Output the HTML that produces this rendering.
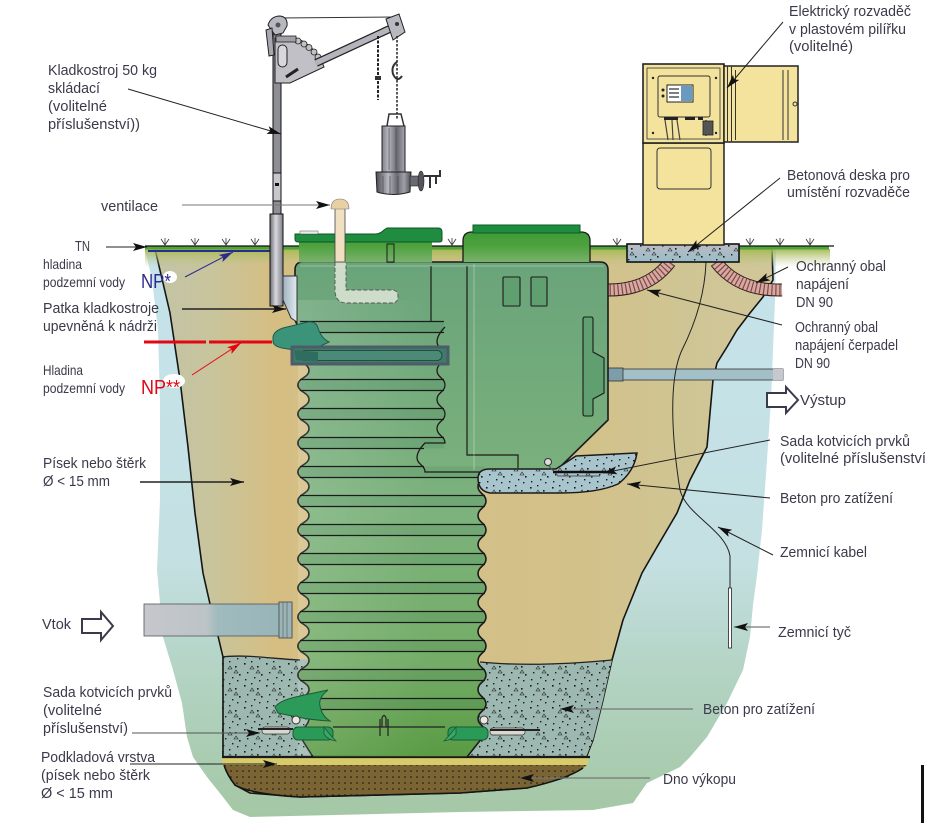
<!DOCTYPE html>
<html><head><meta charset="utf-8"><style>
html,body{margin:0;padding:0;background:#fff;}
svg{display:block;}
text{font-family:"Liberation Sans","DejaVu Sans",sans-serif;font-size:15px;fill:#3a3a4a;}
</style></head><body>
<svg width="925" height="823" viewBox="0 0 925 823" xmlns="http://www.w3.org/2000/svg">
<defs>
<linearGradient id="gw" x1="0" y1="249" x2="0" y2="818" gradientUnits="userSpaceOnUse">
<stop offset="0" stop-color="#c6e3eb"/><stop offset="0.55" stop-color="#c4e0e2"/><stop offset="0.75" stop-color="#b3d3c3"/><stop offset="1" stop-color="#a4c7a4"/></linearGradient>
<linearGradient id="tan" x1="150" y1="0" x2="780" y2="0" gradientUnits="userSpaceOnUse">
<stop offset="0" stop-color="#c2c5a8"/><stop offset="0.1" stop-color="#c8c49c"/><stop offset="0.2" stop-color="#d6be82"/><stop offset="0.24" stop-color="#d4bf86"/><stop offset="0.7" stop-color="#d3c18a"/><stop offset="0.85" stop-color="#cfc594"/><stop offset="1" stop-color="#d0c69a"/></linearGradient>
<linearGradient id="gband" x1="0" y1="249" x2="0" y2="267" gradientUnits="userSpaceOnUse">
<stop offset="0" stop-color="#a3ba4e" stop-opacity="0.95"/><stop offset="1" stop-color="#c0c48a" stop-opacity="0"/></linearGradient>
<linearGradient id="tank" x1="0" y1="262" x2="0" y2="757" gradientUnits="userSpaceOnUse">
<stop offset="0" stop-color="#6aa47a"/><stop offset="0.5" stop-color="#7cb27c"/><stop offset="0.8" stop-color="#74ad68"/><stop offset="1" stop-color="#5a9b44"/></linearGradient>
<linearGradient id="tankh" x1="298" y1="0" x2="430" y2="0" gradientUnits="userSpaceOnUse">
<stop offset="0" stop-color="#fff" stop-opacity="0.14"/><stop offset="1" stop-color="#fff" stop-opacity="0"/></linearGradient>
<linearGradient id="neck" x1="0" y1="232" x2="0" y2="263" gradientUnits="userSpaceOnUse">
<stop offset="0" stop-color="#3f9a36"/><stop offset="0.45" stop-color="#4ea23e"/><stop offset="1" stop-color="#7db270"/></linearGradient>
<linearGradient id="inpipe" x1="144" y1="0" x2="292" y2="0" gradientUnits="userSpaceOnUse">
<stop offset="0" stop-color="#c6c7cc"/><stop offset="0.42" stop-color="#bcc4c8"/><stop offset="0.5" stop-color="#a0bbbe"/><stop offset="1" stop-color="#96b3b7"/></linearGradient>
<linearGradient id="slab" x1="0" y1="244" x2="0" y2="262" gradientUnits="userSpaceOnUse">
<stop offset="0" stop-color="#bcbcc4"/><stop offset="1" stop-color="#98bcc8"/></linearGradient>
<linearGradient id="mastg" x1="270" y1="0" x2="283" y2="0" gradientUnits="userSpaceOnUse">
<stop offset="0" stop-color="#6e6e76"/><stop offset="0.45" stop-color="#d8d8de"/><stop offset="1" stop-color="#7e7e86"/></linearGradient>
<linearGradient id="pumpg" x1="376" y1="0" x2="411" y2="0" gradientUnits="userSpaceOnUse">
<stop offset="0" stop-color="#4a4a52"/><stop offset="0.35" stop-color="#b8b8c0"/><stop offset="0.6" stop-color="#6a6a72"/><stop offset="0.8" stop-color="#a0a0a8"/><stop offset="1" stop-color="#505058"/></linearGradient>
<linearGradient id="brk" x1="283" y1="0" x2="297" y2="0" gradientUnits="userSpaceOnUse">
<stop offset="0" stop-color="#9fb2c2"/><stop offset="1" stop-color="#e2eaf0"/></linearGradient>
<pattern id="dots" width="22" height="22" patternUnits="userSpaceOnUse">
<g fill="#1a1a1a"><rect x="2" y="3" width="1.6" height="1.6"/><rect x="9" y="1" width="1.4" height="1.4"/><rect x="15" y="6" width="1.6" height="1.6"/><rect x="5" y="12" width="1.4" height="1.4"/><rect x="19" y="14" width="1.6" height="1.6"/><rect x="12" y="17" width="1.4" height="1.4"/><rect x="3" y="19" width="1.4" height="1.4"/><rect x="17" y="20" width="1.4" height="1.4"/></g>
<path d="M8,9 l2,-3 l2,3z M14,13 l2,-3 l2,3z" fill="none" stroke="#222" stroke-width="0.6"/>
</pattern>
<pattern id="bdots" width="6" height="6" patternUnits="userSpaceOnUse"><circle cx="3" cy="3" r="0.8" fill="#111"/></pattern>
<marker id="ah" viewBox="0 0 14 8" refX="14" refY="4" markerWidth="14" markerHeight="8" markerUnits="userSpaceOnUse" orient="auto"><path d="M0,0 L14,4 L0,8 L3,4 Z" fill="#111"/></marker>
<marker id="ahb" viewBox="0 0 14 8" refX="14" refY="4" markerWidth="14" markerHeight="8" markerUnits="userSpaceOnUse" orient="auto"><path d="M0,0 L14,4 L0,8 L3,4 Z" fill="#2b2b90"/></marker>
<marker id="ahr" viewBox="0 0 14 8" refX="14" refY="4" markerWidth="14" markerHeight="8" markerUnits="userSpaceOnUse" orient="auto"><path d="M0,0 L14,4 L0,8 L3,4 Z" fill="#e30613"/></marker>
</defs>

<rect width="925" height="823" fill="#fff"/>

<!-- groundwater blob -->
<path d="M145,249 L776,249 L775,300 L771,400 L767,460 L762,530 L757,575 L753,605 L750,637 L743,670 L727,703 L707,737 L690,757 L680,767 L647,783 L633,803 L593,810 L460,812 L250,817 L233,810 L223,797 L207,777 L193,757 L187,737 L182,703 L173,670 L163,637 L160,603 L157,570 L160,500 L160,400 L158,330 L152,280 Z" fill="url(#gw)"/>

<!-- excavation -->
<path d="M155,249 L772,249 L773,280 L763,297 L750,313 L737,330 L727,347 L717,363 L713,380 L710,413 L707,447 L690,480 L677,513 L657,547 L642,573 L623,620 L612,660 L603,700 L593,740 L584,763 L567,777 L527,788 L460,793 L300,797 L250,793 L235,785 L227,767 L223,757 L223,657 L218,636 L210,604 L203,573 L195,513 L188,447 L180,380 L170,313 L163,283 Z" fill="url(#tan)" stroke="#151515" stroke-width="1.6" stroke-linejoin="round"/>

<!-- ground band -->
<rect x="145" y="249" width="685" height="18" fill="url(#gband)"/>
<rect x="145" y="246.5" width="684" height="3" fill="#4ea33a"/>
<line x1="145" y1="246" x2="834" y2="246" stroke="#111" stroke-width="1.2"/>
<line x1="148" y1="251" x2="272" y2="251" stroke="#2b2b90" stroke-width="2"/>

<!-- lower concrete -->
<path d="M222,657 C245,654 275,659 320,660 L320,757 L227,757 Q222,757 222,750 Z" fill="#9db8b0"/>
<path d="M222,657 C245,654 275,659 320,660 L320,757 L227,757 Q222,757 222,750 Z" fill="url(#dots)"/>
<path d="M222,657 C245,654 275,659 300,660" fill="none" stroke="#222" stroke-width="1.3"/>
<path d="M466,662 C520,666 570,664 612,660 L603,700 L593,740 L586,757 L460,757 Z" fill="#9db8b0"/>
<path d="M466,662 C520,666 570,664 612,660 L603,700 L593,740 L586,757 L460,757 Z" fill="url(#dots)"/>
<path d="M480,662 C520,666 570,664 612,660" fill="none" stroke="#222" stroke-width="1.3"/>
<path d="M223,657 V757" stroke="#151515" stroke-width="1.6"/>

<!-- sand & bottom -->
<rect x="222" y="757.5" width="366" height="7.5" fill="#d8cb6c"/>
<path d="M224,765 H587 L583,768 Q567,779 527,788 L460,793 L300,797 Q250,794 235,785 Q227,775 224,765 Z" fill="#7a6433"/>
<path d="M224,765 H587 L583,768 Q567,779 527,788 L460,793 L300,797 Q250,794 235,785 Q227,775 224,765 Z" fill="url(#bdots)"/>
<path d="M583,768 Q567,779 527,788 L460,793 L300,797 Q250,794 235,785 Q227,775 224,765" fill="none" stroke="#151515" stroke-width="1.6"/>
<line x1="222" y1="757" x2="590" y2="757" stroke="#1a1a1a" stroke-width="2.2"/>

<!-- inlet pipe -->
<rect x="144" y="604" width="148" height="32" fill="url(#inpipe)" stroke="#555" stroke-width="0.8"/>
<rect x="279" y="602" width="13" height="36" fill="#9ab4b8" stroke="#444" stroke-width="0.8"/>
<line x1="283" y1="602" x2="283" y2="638" stroke="#555" stroke-width="0.6"/>
<line x1="287" y1="602" x2="287" y2="638" stroke="#555" stroke-width="0.6"/>

<!-- outlet pipe -->
<rect x="608" y="369" width="175" height="11" fill="#a3c0c8" stroke="#333" stroke-width="0.8"/>
<rect x="773" y="369" width="10" height="11" fill="#c6c8ce"/>
<rect x="608" y="368" width="15" height="13" fill="#7d9ea8" stroke="#333" stroke-width="0.8"/>

<!-- conduits -->
<path d="M670,262 Q648,291 606,290" fill="none" stroke="#2a1a1a" stroke-width="13"/>
<path d="M670,262 Q648,291 606,290" fill="none" stroke="#d9a8a0" stroke-width="11"/>
<path d="M670,262 Q648,291 606,290" fill="none" stroke="#7a4a48" stroke-width="11" stroke-dasharray="1.2 2.8"/>
<path d="M716,262 Q738,291 782,290" fill="none" stroke="#2a1a1a" stroke-width="13"/>
<path d="M716,262 Q738,291 782,290" fill="none" stroke="#d9a8a0" stroke-width="11"/>
<path d="M716,262 Q738,291 782,290" fill="none" stroke="#7a4a48" stroke-width="11" stroke-dasharray="1.2 2.8"/>

<!-- earthing cable -->
<path d="M706,262 C705,292 696,322 682,350 C668,380 672,440 680,490 C686,515 726,530 730,556 L730,588" fill="none" stroke="#222" stroke-width="1"/>
<rect x="728.5" y="588" width="3" height="60" fill="#fff" stroke="#222" stroke-width="0.8"/>

<!-- slab -->
<rect x="627" y="244" width="112" height="18" fill="url(#slab)" stroke="#111" stroke-width="1.6"/>
<rect x="628" y="245" width="110" height="16" fill="url(#dots)"/>

<!-- tank body -->
<path d="M303,262 H600 Q608,262 608,270 V420 L555,472 H486 s-8,7.5 -8,14.5 s8,7.5 8,14.5 s-8,7.5 -8,14.5 s8,7.5 8,14.5 s-8,7.5 -8,14.5 s8,7.5 8,14.5 s-8,7.5 -8,14.5 s8,7.5 8,14.5 s-8,7.5 -8,14.5 s8,7.5 8,14.5 s-8,7.5 -8,14.5 s8,7.5 8,14.5 s-8,7.5 -8,14.5 s8,7.5 8,14.5 s-8,7.5 -8,14.5 s8,7.5 8,14.5 s-8,7.5 -8,14.5 s8,7.5 8,14.5 L467,757 H313 L298,733 s11,-7.5 11,-14.5 s-11,-7.5 -11,-14.5 s11,-7.5 11,-14.5 s-11,-7.5 -11,-14.5 s11,-7.5 11,-14.5 s-11,-7.5 -11,-14.5 s11,-7.5 11,-14.5 s-11,-7.5 -11,-14.5 s11,-7.5 11,-14.5 s-11,-7.5 -11,-14.5 s11,-7.5 11,-14.5 s-11,-7.5 -11,-14.5 s11,-7.5 11,-14.5 s-11,-7.5 -11,-14.5 s11,-7.5 11,-14.5 s-11,-7.5 -11,-14.5 s11,-7.5 11,-14.5 s-11,-7.5 -11,-14.5 s11,-7.5 11,-14.5 s-11,-7.5 -11,-14.5 s11,-7.5 11,-14.5 s-11,-7.5 -11,-14.5 s11,-7.5 11,-14.5 s-11,-7.5 -11,-14.5 s11,-7.5 11,-14.5 s-11,-7.5 -11,-14.5 s11,-7.5 11,-14.5 s-11,-7.5 -11,-14.5 L295,320 V270 Q295,262 303,262 Z" fill="url(#tank)" stroke="#1a1a1a" stroke-width="1.6"/>
<rect x="298" y="300" width="140" height="455" fill="url(#tankh)"/>

<!-- band fills -->
<g fill="#14503a" fill-opacity="0.1">
<rect x="300" y="321.5" width="144" height="11"/><rect x="300" y="350.5" width="144" height="11"/><rect x="300" y="379.5" width="144" height="11"/><rect x="300" y="408.5" width="144" height="11"/><rect x="300" y="437.5" width="144" height="11"/><rect x="300" y="466.5" width="185" height="11"/><rect x="300" y="495.5" width="185" height="11"/><rect x="300" y="524.5" width="185" height="11"/><rect x="300" y="553.5" width="185" height="11"/><rect x="300" y="582.5" width="185" height="11"/><rect x="300" y="611.5" width="185" height="11"/><rect x="300" y="640.5" width="185" height="11"/><rect x="300" y="669.5" width="185" height="11"/><rect x="300" y="698.5" width="185" height="11"/>
</g>
<path d="M300,321.5H444M300,332.5H444M300,350.5H444M300,361.5H444M300,379.5H444M300,390.5H444M300,408.5H444M300,419.5H444M300,437.5H444M300,448.5H424M300,466.5H424M300,477.5H485M300,495.5H485M300,506.5H485M300,524.5H485M300,535.5H485M300,553.5H485M300,564.5H485M300,582.5H485M300,593.5H485M300,611.5H485M300,622.5H485M300,640.5H485M300,651.5H485M300,669.5H485M300,680.5H485M300,698.5H485M300,709.5H485" stroke="#1c1c1c" stroke-width="1.2" fill="none"/>
<!-- upper column right edge -->
<path d="M445,327 s-8,7.5 -8,14.5 s8,7.5 8,14.5 s-8,7.5 -8,14.5 s8,7.5 8,14.5 s-8,7.5 -8,14.5 s8,7.5 8,14.5 s-8,7.5 -8,14.5 s8,7.5 8,14.5 L425,443 s-8,7.5 -8,14.5 s8,7.5 8,14.5 L486,472" fill="none" stroke="#1c1c1c" stroke-width="1.3"/>
<!-- upper body inner lines -->
<path d="M431,266V321M467,266V455H518V468" fill="none" stroke="#1c1c1c" stroke-width="1.2"/>
<line x1="474" y1="264" x2="474" y2="470" stroke="#fff" stroke-opacity="0.35" stroke-width="1"/>
<line x1="300" y1="266" x2="604" y2="266" stroke="#fff" stroke-opacity="0.3" stroke-width="1"/>
<rect x="503" y="277" width="17" height="29" rx="1" fill="#5f9f70" stroke="#1c1c1c" stroke-width="1.1"/>
<rect x="531" y="277" width="16" height="29" rx="1" fill="#5f9f70" stroke="#1c1c1c" stroke-width="1.1"/>
<path d="M583,319 Q583,317 585,317 H591 Q593,317 593,319 V352 L604,358 V393 L593,399 V414 Q593,416 591,416 H585 Q583,416 583,414 Z" fill="#5f9f70" stroke="#1c1c1c" stroke-width="1.1"/>

<!-- vent pipe inside -->
<path d="M335,262 V290 Q335,303 347,303 H392 Q398,303 398,296.5 Q398,290 392,290 H346 V262 Z" fill="#dfe6d8" fill-opacity="0.85" stroke="#555" stroke-width="0.9" stroke-dasharray="4 2"/>

<!-- necks and lids -->
<rect x="299" y="242" width="133" height="20.5" fill="url(#neck)"/>
<rect x="387" y="244" width="7" height="18" fill="none" stroke="#1c1c1c" stroke-width="1"/>
<path d="M463,262 V241 Q463,232 472,232 H581 Q590,232 590,241 V262" fill="url(#neck)" stroke="#1a1a1a" stroke-width="1.3"/>
<rect x="473" y="225" width="107" height="8" fill="#1e8c3f" stroke="#0f5a28" stroke-width="1"/>
<path d="M295,234 H375 Q380,234 384,230 L387,228 H438 Q442,228 442,232 V240 Q442,242 439,242 H298 Q295,242 295,239 Z" fill="#1f8c40" stroke="#0e5526" stroke-width="1"/>
<rect x="300" y="231" width="18" height="3" fill="#e8eee8" stroke="#555" stroke-width="0.5"/>
<rect x="335" y="208" width="10" height="54" fill="#f0dfc0" stroke="#444" stroke-width="0.8"/>
<path d="M331,209 Q331,199 340,199 Q349,199 349,209 Z" fill="#e9d0a4" stroke="#777" stroke-width="0.6"/>

<!-- anchor foot top / guide -->
<path d="M273,337 Q274,331 283,328 L308,322 Q316,321 318,328 Q321,338 329,342 Q318,347 314,350 L300,351 L282,348 Q273,346 273,341 Z" fill="#3b9479" stroke="#1e5a4a" stroke-width="1"/>
<rect x="292" y="347" width="156" height="17" fill="#3e7b6a" stroke="#4d5c68" stroke-width="3"/>
<rect x="300" y="350.5" width="142" height="10" rx="5" fill="#4a8a76" stroke="#1d3d34" stroke-width="0.8"/>
<path d="M294,350 L318,352 L318,362 L296,360 Z" fill="#2f6e5e"/>

<!-- lower anchors -->
<path d="M275,707 Q280,700 300,696 L328,690 Q318,698 320,706 Q322,716 330,721 Q310,720 292,716 L278,713 Z" fill="#2c9b5a" stroke="#1b5a35" stroke-width="1"/>
<rect x="293" y="727" width="40" height="13" rx="5" fill="#2a9a58" stroke="#1b5a35" stroke-width="1"/>
<rect x="448" y="727" width="40" height="13" rx="5" fill="#2a9a58" stroke="#1b5a35" stroke-width="1"/>
<path d="M324,727 Q330,735 336,741 Q328,740 324,734 Z M456,727 Q450,735 444,741 Q452,740 456,734 Z" fill="#3aa868" stroke="#1b5a35" stroke-width="0.8"/>
<path d="M333,727 H445 M380,719 V736 M388,719 V736 M382,727 V718 Q384,713 386,718 V727" fill="none" stroke="#222" stroke-width="1.2"/>
<rect x="262" y="727" width="28" height="7" rx="3" fill="#d8d8d0" stroke="#333" stroke-width="0.7"/>
<rect x="490" y="728" width="35" height="7" rx="3" fill="#d8d8d0" stroke="#333" stroke-width="0.7"/>
<line x1="258" y1="729" x2="293" y2="729" stroke="#222" stroke-width="2"/>
<line x1="490" y1="730" x2="540" y2="730" stroke="#222" stroke-width="2"/>
<circle cx="296" cy="720" r="4" fill="#e8e8e0" stroke="#333" stroke-width="1"/>
<circle cx="484" cy="720" r="4" fill="#e8e8e0" stroke="#333" stroke-width="1"/>

<!-- upper concrete -->
<path d="M478,478 Q478,469 490,469 L556,469 L576,456 L637,453 Q634,472 618,484 Q598,493 560,493 L490,493 Q478,491 478,478 Z" fill="#a8c4cc" stroke="#1a1a1a" stroke-width="1.5"/>
<path d="M478,478 Q478,469 490,469 L556,469 L576,456 L637,453 Q634,472 618,484 Q598,493 560,493 L490,493 Q478,491 478,478 Z" fill="url(#dots)"/>
<path d="M548,465 L558,476 H600" fill="none" stroke="#555" stroke-width="1"/>
<line x1="553" y1="472" x2="612" y2="472" stroke="#111" stroke-width="2.5"/>
<circle cx="548" cy="462" r="3.5" fill="#ddd" stroke="#333" stroke-width="1"/>

<!-- crane mast -->
<rect x="273" y="34" width="8" height="180" fill="#8e8e96" stroke="#111" stroke-width="1"/>
<rect x="273" y="173" width="8" height="28" fill="#c8c8cc" stroke="#111" stroke-width="1"/>
<rect x="275" y="183" width="4" height="3" fill="#111"/>
<rect x="270" y="214" width="13" height="92" fill="url(#mastg)" stroke="#111" stroke-width="1"/>
<path d="M283,276 H297 V322 L291,318 L283,300 Z" fill="url(#brk)" stroke="#333" stroke-width="1"/>
<!-- crane top -->
<line x1="279" y1="18" x2="395" y2="17" stroke="#333" stroke-width="1"/>
<path d="M275,38 H296 Q312,44 322,62 L324,67 L290,83 H275 Z" fill="#c0c0c6" stroke="#222" stroke-width="1"/>
<g fill="#c0c0c6" stroke="#222" stroke-width="0.8"><circle cx="298" cy="41" r="3"/><circle cx="304" cy="44" r="3"/><circle cx="309" cy="47.5" r="3"/><circle cx="314" cy="52" r="3"/><circle cx="318" cy="57" r="3"/></g>
<rect x="276" y="36" width="20" height="6" fill="#a0a0a8" stroke="#222" stroke-width="0.8"/>
<rect x="278" y="45" width="9" height="22" rx="4.5" fill="#d8d8dc" stroke="#222" stroke-width="1"/>
<line x1="286" y1="77" x2="298" y2="69" stroke="#222" stroke-width="3"/>
<line x1="316" y1="63" x2="396" y2="26" stroke="#222" stroke-width="8"/>
<line x1="316" y1="63" x2="396" y2="26" stroke="#b4b4bc" stroke-width="5.5"/>
<polygon points="386,19 399,14 405,32 393,40" fill="#b8b8c0" stroke="#222" stroke-width="1"/>
<circle cx="397" cy="24" r="2" fill="#333"/>
<path d="M268,25 Q271,16 280,16 Q288,17 287,26 L283,33 L275,35 Z" fill="#b8b8c0" stroke="#222" stroke-width="1"/>
<circle cx="278" cy="25" r="2.5" fill="#555"/>
<path d="M266,30 L272,28 L274,55 L269,56 Z" fill="#a8a8b0" stroke="#222" stroke-width="1"/>
<!-- chains & pump -->
<line x1="378" y1="36" x2="378" y2="100" stroke="#222" stroke-width="2" stroke-dasharray="3 1.5"/>
<rect x="375" y="76" width="6" height="4" fill="#333"/>
<line x1="397" y1="36" x2="397" y2="120" stroke="#222" stroke-width="1.5" stroke-dasharray="2.5 1.5"/>
<path d="M397,62 Q391,66 393,74 Q397,83 402,76" fill="none" stroke="#333" stroke-width="2"/>
<path d="M387,126 L389,114 H401 L404,126" fill="none" stroke="#333" stroke-width="1.5"/>
<path d="M382,126 H405 V172 H382 Z" fill="url(#pumpg)" stroke="#222" stroke-width="1"/>
<path d="M389,128 V170 M396,128 V170" stroke="#444" stroke-width="0.6"/>
<path d="M376,172 H411 L410,192 Q393,197 377,192 Z" fill="url(#pumpg)" stroke="#222" stroke-width="1"/>
<path d="M383,176 V193 M390,176 V195 M398,176 V195" stroke="#444" stroke-width="0.6"/>
<rect x="410" y="176" width="10" height="10" fill="#6a6a72" stroke="#222" stroke-width="0.6"/>
<ellipse cx="421" cy="181" rx="3" ry="10" fill="#55555d" stroke="#222" stroke-width="0.6"/>
<path d="M424,176 H440 V170 M430,176 V188 M436,176 V184" fill="none" stroke="#333" stroke-width="2"/>

<!-- electrical cabinet -->
<rect x="643" y="143" width="81" height="102" fill="#f3e39c" stroke="#222" stroke-width="1.5"/>
<rect x="657" y="148" width="54" height="41" rx="3" fill="none" stroke="#333" stroke-width="1"/>
<rect x="643" y="64" width="81" height="79" fill="#f3e39c" stroke="#222" stroke-width="1.6"/>
<rect x="647" y="68" width="73" height="71" fill="none" stroke="#333" stroke-width="0.8"/>
<rect x="658" y="76" width="52" height="41" rx="2" fill="#f3e39c" stroke="#333" stroke-width="1"/>
<rect x="667" y="85" width="26" height="17" fill="#fff" stroke="#222" stroke-width="1"/>
<rect x="681" y="86" width="11" height="15" fill="#6a9ac0"/>
<path d="M669,89 H679 M669,93 H679 M669,97 H679" stroke="#333" stroke-width="1.2"/>
<circle cx="663" cy="90" r="1.5" fill="#222"/><circle cx="663" cy="96" r="1.5" fill="#222"/>
<g fill="#222"><circle cx="653" cy="78" r="1.2"/><circle cx="716" cy="78" r="1.2"/><circle cx="653" cy="133" r="1.2"/><circle cx="716" cy="133" r="1.2"/>
<rect x="664" y="117" width="14" height="3"/><rect x="685" y="117" width="10" height="3"/><rect x="698" y="117" width="5" height="3"/></g>
<path d="M665,120 L668,140 M672,120 L673,140 M677,120 L680,140 M706,120 V136" stroke="#444" stroke-width="1.2" fill="none"/>
<rect x="703" y="121" width="10" height="14" fill="#555" stroke="#222" stroke-width="0.8"/>
<rect x="724" y="66" width="74" height="76" fill="#f3e39c" stroke="#222" stroke-width="1.5"/>
<path d="M727.5,66V142 M731.5,66V142 M735.5,70V140 M783,70V140 M788,70V140" stroke="#333" stroke-width="1"/>
<circle cx="795" cy="104" r="2" fill="none" stroke="#333" stroke-width="1"/>

<!-- grass symbols -->
<path d="M165,238V246M161,239L165,245L169,239 M195,238V246M191,239L195,245L199,239 M226,238V246M222,239L226,245L230,239 M255,238V246M251,239L255,245L259,239 M452,238V246M448,239L452,245L456,239 M617,238V246M613,239L617,245L621,239 M750,238V246M746,239L750,245L754,239 M780,238V246M776,239L780,245L784,239 M810,238V246M806,239L810,245L814,239" stroke="#333" stroke-width="0.8" fill="none"/>

<!-- red groundwater line -->
<path d="M144,342 H206 M209,342 H272" stroke="#e30613" stroke-width="3"/>

<!-- white blobs for NP labels -->
<ellipse cx="170" cy="277" rx="7" ry="6" fill="#fff"/>
<ellipse cx="174" cy="381" rx="11" ry="7" fill="#fff"/>

<!-- hollow arrows -->
<path d="M82,619 H101 V612 L113,626 L101,640 V633 H82 Z" fill="#fff" stroke="#3a3a4a" stroke-width="2" stroke-linejoin="miter"/>
<path d="M767,393 H786 V387 L798,400 L786,413 V407 H767 Z" fill="#fff" stroke="#3a3a4a" stroke-width="2"/>

<!-- leaders -->
<g fill="none" stroke-width="1">
<line x1="128" y1="89" x2="281" y2="134" stroke="#222" marker-end="url(#ah)"/>
<line x1="182" y1="205" x2="330" y2="205" stroke="#777" marker-end="url(#ah)"/>
<line x1="106" y1="247" x2="147" y2="247" stroke="#222" marker-end="url(#ah)"/>
<line x1="185" y1="277" x2="233" y2="252" stroke="#2b2b90" marker-end="url(#ahb)"/>
<line x1="182" y1="309" x2="286" y2="309" stroke="#222" stroke-width="1.4" marker-end="url(#ah)"/>
<line x1="192" y1="375" x2="241" y2="343" stroke="#e30613" marker-end="url(#ahr)"/>
<line x1="140" y1="482" x2="244" y2="482" stroke="#222" stroke-width="1.4" marker-end="url(#ah)"/>
<line x1="132" y1="733" x2="260" y2="733" stroke="#555" marker-end="url(#ah)"/>
<line x1="130" y1="764" x2="277" y2="764" stroke="#222" marker-end="url(#ah)"/>
<line x1="783" y1="22" x2="727" y2="88" stroke="#222" marker-end="url(#ah)"/>
<line x1="780" y1="178" x2="688" y2="252" stroke="#222" marker-end="url(#ah)"/>
<line x1="788" y1="267" x2="756" y2="283" stroke="#222" marker-end="url(#ah)"/>
<line x1="782" y1="325" x2="647" y2="290" stroke="#222" marker-end="url(#ah)"/>
<line x1="770" y1="440" x2="603" y2="473" stroke="#222" marker-end="url(#ah)"/>
<line x1="770" y1="498" x2="627" y2="484" stroke="#222" marker-end="url(#ah)"/>
<line x1="773" y1="555" x2="718" y2="527" stroke="#222" marker-end="url(#ah)"/>
<line x1="770" y1="627" x2="734" y2="627" stroke="#777" stroke-width="1.3" marker-end="url(#ah)"/>
<line x1="693" y1="709" x2="560" y2="709" stroke="#777" stroke-width="1.3" marker-end="url(#ah)"/>
<line x1="650" y1="778" x2="520" y2="778" stroke="#777" stroke-width="1.3" marker-end="url(#ah)"/>
</g>

<rect x="921" y="765" width="3" height="58" fill="#111"/>

<!-- labels left -->
<text x="48" y="75" textLength="109" lengthAdjust="spacingAndGlyphs">Kladkostroj 50 kg</text>
<text x="48" y="93" textLength="52" lengthAdjust="spacingAndGlyphs">skládací</text>
<text x="48" y="111" textLength="59" lengthAdjust="spacingAndGlyphs">(volitelné</text>
<text x="48" y="129" textLength="92" lengthAdjust="spacingAndGlyphs">příslušenství))</text>
<text x="101" y="211" textLength="57" lengthAdjust="spacingAndGlyphs">ventilace</text>
<text x="75" y="251" textLength="15" lengthAdjust="spacingAndGlyphs">TN</text>
<text x="43" y="269" textLength="39" lengthAdjust="spacingAndGlyphs" style="font-size:14px">hladina</text>
<text x="43" y="287" textLength="82" lengthAdjust="spacingAndGlyphs" style="font-size:14px">podzemní vody</text>
<text x="141" y="288" textLength="30" lengthAdjust="spacingAndGlyphs" style="font-size:20px;fill:#2b2b90">NP*</text>
<text x="43" y="313" textLength="116" lengthAdjust="spacingAndGlyphs">Patka kladkostroje</text>
<text x="43" y="331" textLength="114" lengthAdjust="spacingAndGlyphs">upevněná k nádrži</text>
<text x="43" y="375" textLength="40" lengthAdjust="spacingAndGlyphs" style="font-size:14px">Hladina</text>
<text x="43" y="393" textLength="82" lengthAdjust="spacingAndGlyphs" style="font-size:14px">podzemní vody</text>
<text x="141" y="394" textLength="39" lengthAdjust="spacingAndGlyphs" style="font-size:20px;fill:#e30613">NP**</text>
<text x="43" y="468" textLength="103" lengthAdjust="spacingAndGlyphs">Písek nebo štěrk</text>
<text x="43" y="486" textLength="67" lengthAdjust="spacingAndGlyphs">Ø &lt; 15 mm</text>
<text x="42" y="629" textLength="29" lengthAdjust="spacingAndGlyphs">Vtok</text>
<text x="43" y="697" textLength="129" lengthAdjust="spacingAndGlyphs">Sada kotvicích prvků</text>
<text x="43" y="715" textLength="59" lengthAdjust="spacingAndGlyphs">(volitelné</text>
<text x="43" y="733" textLength="85" lengthAdjust="spacingAndGlyphs">příslušenství)</text>
<text x="41" y="762" textLength="114" lengthAdjust="spacingAndGlyphs">Podkladová vrstva</text>
<text x="41" y="780" textLength="109" lengthAdjust="spacingAndGlyphs">(písek nebo štěrk</text>
<text x="41" y="798" textLength="72" lengthAdjust="spacingAndGlyphs">Ø &lt; 15 mm</text>

<!-- labels right -->
<text x="789" y="16" textLength="122" lengthAdjust="spacingAndGlyphs">Elektrický rozvaděč</text>
<text x="789" y="34" textLength="117" lengthAdjust="spacingAndGlyphs">v plastovém pilířku</text>
<text x="789" y="51" textLength="64" lengthAdjust="spacingAndGlyphs">(volitelné)</text>
<text x="787" y="180" textLength="123" lengthAdjust="spacingAndGlyphs">Betonová deska pro</text>
<text x="787" y="197" textLength="123" lengthAdjust="spacingAndGlyphs">umístění rozvaděče</text>
<text x="796" y="271" textLength="90" lengthAdjust="spacingAndGlyphs">Ochranný obal</text>
<text x="796" y="289" textLength="53" lengthAdjust="spacingAndGlyphs">napájení</text>
<text x="796" y="307" textLength="37" lengthAdjust="spacingAndGlyphs">DN 90</text>
<text x="795" y="332" textLength="83" lengthAdjust="spacingAndGlyphs">Ochranný obal</text>
<text x="795" y="350" textLength="103" lengthAdjust="spacingAndGlyphs">napájení čerpadel</text>
<text x="795" y="368" textLength="35" lengthAdjust="spacingAndGlyphs">DN 90</text>
<text x="800" y="405" textLength="46" lengthAdjust="spacingAndGlyphs">Výstup</text>
<text x="780" y="446" textLength="130" lengthAdjust="spacingAndGlyphs">Sada kotvicích prvků</text>
<text x="780" y="463" textLength="146" lengthAdjust="spacingAndGlyphs">(volitelné příslušenství</text>
<text x="780" y="503" textLength="113" lengthAdjust="spacingAndGlyphs">Beton pro zatížení</text>
<text x="780" y="557" textLength="87" lengthAdjust="spacingAndGlyphs">Zemnicí kabel</text>
<text x="778" y="637" textLength="73" lengthAdjust="spacingAndGlyphs">Zemnicí tyč</text>
<text x="703" y="714" textLength="112" lengthAdjust="spacingAndGlyphs">Beton pro zatížení</text>
<text x="663" y="784" textLength="73" lengthAdjust="spacingAndGlyphs">Dno výkopu</text>
</svg>
</body></html>
